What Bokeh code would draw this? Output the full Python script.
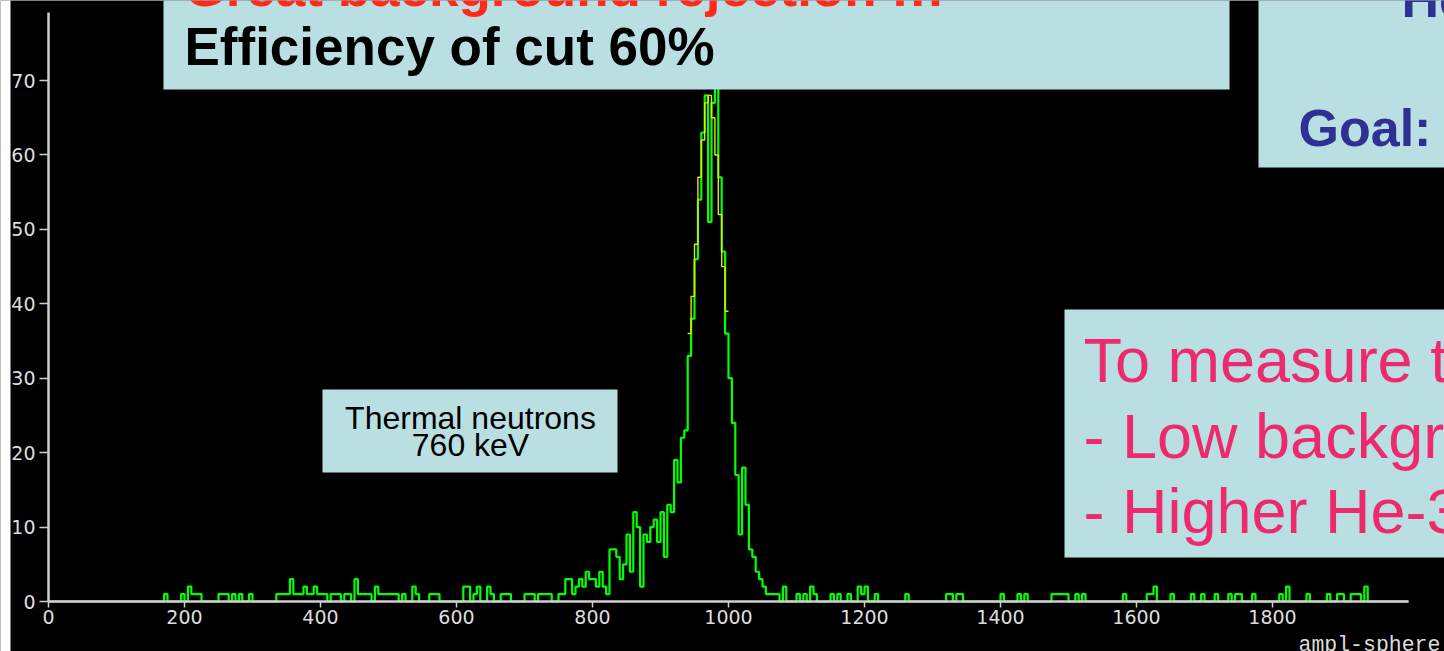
import numpy as np
from bokeh.plotting import figure
from bokeh.models import Range1d, FixedTicker, BoxAnnotation, Label
from bokeh.embed import file_html
from bokeh.resources import INLINE

# ---------------- data ----------------
bin_width = 5
x_min, x_max = 0, 2000
y_top = 79.14

low_bins = [170, 195, 205, 210, 215, 220, 250, 255, 260, 270, 280, 295, 335, 340, 345, 350,
            355, 360, 365, 370, 375, 380, 385, 390, 395, 400, 405, 415, 420, 425, 435, 440,
            450, 455, 460, 465, 470, 480, 485, 490, 495, 500, 505, 510, 520, 535, 540, 560,
            565, 570, 610, 615, 625, 630, 645, 650, 665, 670, 675, 700, 705, 710, 720, 725,
            730, 735, 750, 755]
low_counts = [1, 1, 2, 1, 1, 1, 1, 1, 1, 1, 1, 1, 1, 1, 1, 1,
              3, 1, 1, 1, 2, 1, 1, 2, 1, 1, 1, 1, 1, 1, 1, 1,
              3, 1, 1, 1, 1, 2, 1, 1, 1, 1, 1, 1, 1, 2, 1, 1,
              1, 1, 2, 2, 1, 2, 2, 1, 1, 1, 1, 1, 1, 1, 1, 1,
              1, 1, 1, 1]

peak_start = 760
peak_counts = [3, 3, 1, 2, 3, 2, 4, 3, 3, 2, 4, 2, 1, 7, 7, 6,
               3, 5, 9, 4, 12, 10, 2, 9, 8, 10, 11, 8, 12, 6, 13, 12,
               19, 16, 22, 23, 33, 38, 46, 54, 63, 68, 51, 67, 73, 57, 47, 36,
               30, 24, 17, 9, 18, 13, 7, 6, 4, 3, 2, 1, 1, 1, 1, 0]

high_bins = [1080, 1100, 1110, 1120, 1125, 1150, 1160, 1175, 1190, 1195, 1200, 1215, 1260,
             1320, 1325, 1335, 1340, 1400, 1425, 1435, 1475, 1480, 1485, 1490, 1495, 1510,
             1520, 1580, 1615, 1620, 1625, 1650, 1680, 1695, 1715, 1735, 1745, 1750, 1770,
             1810, 1820, 1850, 1880, 1895, 1900, 1915, 1920, 1925, 1935]
high_counts = [2, 1, 1, 2, 1, 1, 1, 1, 2, 1, 2, 1, 1,
               1, 1, 1, 1, 1, 1, 1, 1, 1, 1, 1, 1, 1,
               1, 1, 1, 1, 2, 1, 1, 1, 1, 1, 1, 1, 1,
               1, 2, 1, 1, 1, 1, 1, 1, 1, 2]

fit_start = 940
fit_counts = [36, 41, 48, 57, 62, 67, 68, 65, 60, 52, 45, 39]

x_ticks = [0, 200, 400, 600, 800, 1000, 1200, 1400, 1600, 1800]
y_ticks = [0, 10, 20, 30, 40, 50, 60, 70]

# ---------------- build histogram arrays ----------------
n_bins = (x_max - x_min) // bin_width
counts = np.zeros(n_bins)
for b, c in zip(low_bins, low_counts):
    counts[b // bin_width] = c
for i, c in enumerate(peak_counts):
    counts[peak_start // bin_width + i] = c
for b, c in zip(high_bins, high_counts):
    counts[b // bin_width] = c
edges = np.arange(x_min, x_max + bin_width, bin_width)
hist_x = edges
hist_y = np.append(counts, counts[-1])

fit_x = np.arange(fit_start, fit_start + bin_width * (len(fit_counts) + 1), bin_width)
fit_y = np.append(np.array(fit_counts, dtype=float), fit_counts[-1])

# ---------------- geometry: frame = whole canvas, axes at fixed locations ----------------
W, H = 1444, 651
AXL, AXR = 48, 1408      # pixel position of x = x_min, x = x_max
AYB, AYT = 601, 12       # pixel position of y = 0, y = y_top
sx = (AXR - AXL) / (x_max - x_min)
sy = (AYB - AYT) / y_top
x_start, x_end = x_min - AXL / sx, x_min + (W - AXL) / sx
y_start, y_end = -(H - AYB) / sy, AYB / sy


def dx(px):
    return x_min + (px - AXL) / sx


def dy(py):
    return (AYB - py) / sy


p = figure(width=W, height=H, x_range=Range1d(x_start, x_end), y_range=Range1d(y_start, y_end),
           output_backend="svg", toolbar_location=None,
           min_border_left=0, min_border_right=0, min_border_top=0, min_border_bottom=0)
p.background_fill_color = "black"
p.border_fill_color = "black"
p.outline_line_color = None
p.xgrid.visible = False
p.ygrid.visible = False

h = p.step(hist_x, hist_y, mode="after", line_color="#00ff00", line_width=2.2)
f = p.step(fit_x, fit_y, mode="after", line_color="#e6e600", line_width=1.4)
h.level = "underlay"
f.level = "underlay"

AX = "#cfcfcf"
for ax in (p.xaxis[0], p.yaxis[0]):
    ax.fixed_location = 0
    ax.axis_line_color = AX
    ax.axis_line_width = 2.5
    ax.major_tick_line_color = AX
    ax.major_tick_line_width = 1.5
    ax.minor_tick_line_color = None
    ax.major_tick_in = 0
    ax.major_label_text_font = "DejaVu Sans"
    ax.major_label_text_font_size = "19px"
    ax.major_label_text_color = "#dddddd"
p.xaxis[0].ticker = FixedTicker(ticks=x_ticks)
p.yaxis[0].ticker = FixedTicker(ticks=y_ticks)
p.xaxis[0].bounds = (x_min, x_max)
p.yaxis[0].bounds = (0, y_top)
p.xaxis[0].major_tick_out = 6
p.xaxis[0].major_label_standoff = 2
p.yaxis[0].major_tick_out = 9
p.yaxis[0].major_label_standoff = 4

BOX = "#badfe3"
for l, r, t, b in [(163, 1229, -30, 89), (1258, 1480, -30, 167),
                   (1064, 1480, 309, 557), (322, 617, 389, 472)]:
    p.add_layout(BoxAnnotation(left=dx(l), right=dx(r), top=dy(t), bottom=dy(b),
                               fill_color=BOX, fill_alpha=1.0, line_color=None))
# white strip along the left edge of the slide
p.add_layout(BoxAnnotation(left=dx(-20), right=dx(10), top=dy(-20), bottom=dy(H + 20),
                           fill_color="white", fill_alpha=1.0, line_color=None))


def label(px, py, text, size, color, font="Liberation Sans", style="normal", align="left",
          shift=0.365):
    fs = float(size.replace("px", ""))
    p.add_layout(Label(x=dx(px), y=dy(py - shift * fs), text=text, text_font=font,
                       text_font_size=size, text_font_style=style, text_color=color,
                       text_align=align, text_baseline="alphabetic"))


label(184, 6, "Great background rejection !!!", "53px", "#ff2a1a", style="bold")
label(184, 65, "Efficiency of cut 60%", "53px", "#000000", style="bold")
label(1401, 17, "He-3", "52px", "#2e3192", style="bold")
label(1298, 146, "Goal:", "52px", "#2e3192", style="bold")
label(1083, 382, "To measure thermal neutrons:", "63px", "#ee2a6f")
label(1083, 458, "- Low background", "63px", "#ee2a6f")
label(1083, 533, "- Higher He-3 pressure", "63px", "#ee2a6f")
label(470, 429, "Thermal neutrons", "32px", "#000000", align="center")
label(470, 456, "760 keV", "32px", "#000000", align="center")
label(1298, 644, "ampl-sphere", "21.5px", "#dddddd", font="Liberation Mono", shift=0.0)

open("out.html", "w").write(file_html(p, INLINE))
